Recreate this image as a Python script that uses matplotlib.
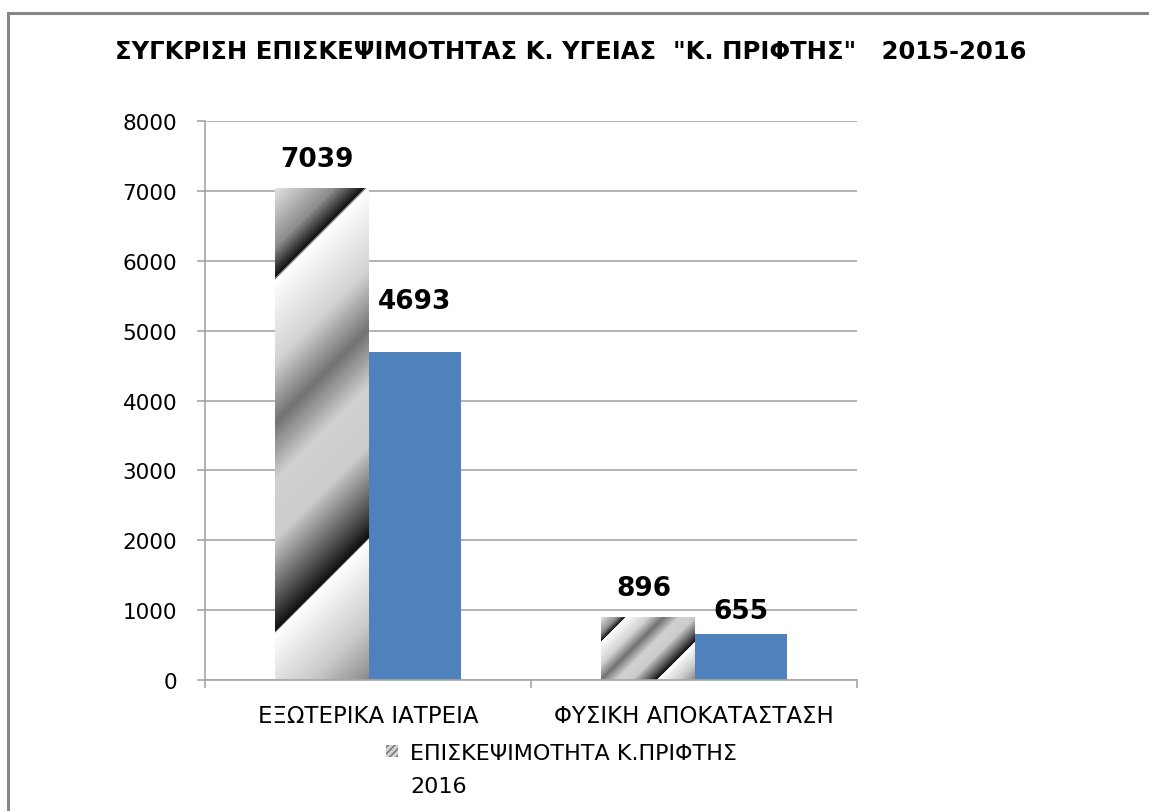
import numpy as np
import matplotlib
matplotlib.use("Agg")
import matplotlib.pyplot as plt
from matplotlib.colors import LinearSegmentedColormap
from matplotlib.patches import Rectangle

# data
categories = ["ΕΞΩΤΕΡΙΚΑ ΙΑΤΡΕΙΑ", "ΦΥΣΙΚΗ ΑΠΟΚΑΤΑΣΤΑΣΗ"]
visits_2016 = [7039, 896]
visits_2015 = [4693, 655]
series_name = "ΕΠΙΣΚΕΨΙΜΟΤΗΤΑ Κ.ΠΡΙΦΤΗΣ\n2016"
title = 'ΣΥΓΚΡΙΣΗ ΕΠΙΣΚΕΨΙΜΟΤΗΤΑΣ Κ. ΥΓΕΙΑΣ  "Κ. ΠΡΙΦΤΗΣ"   2015-2016'
y_ticks = [0, 1000, 2000, 3000, 4000, 5000, 6000, 7000, 8000]

plt.rcParams['font.family'] = ['DejaVu Sans']

W, H, DPI = 1149, 812, 100
fig = plt.figure(figsize=(W / DPI, H / DPI), dpi=DPI)
ax = fig.add_axes([205 / W, 1 - 681 / H, 652 / W, 559 / H])

# outer chart border (cut off at right and bottom)
fig.patches.append(Rectangle((8 / W, -0.1), 1.2, 1 - 14 / H + 0.1,
                             transform=fig.transFigure, fill=False,
                             edgecolor='#878787', linewidth=2.2))

bar_w = 0.286
x = np.arange(len(categories))
ax.set_xlim(-0.5, len(categories) - 0.5)
ax.set_ylim(0, 8000)

# metallic striped gradient, 45 degrees in screen space
stops = [(0.0, 0.55), (0.10, 0.80), (0.238, 1.0), (0.242, 0.06),
         (0.30, 0.35), (0.40, 0.80), (0.50, 0.82), (0.60, 0.45),
         (0.70, 0.82), (0.845, 1.0), (0.849, 0.06), (0.90, 0.55),
         (1.0, 0.88)]
metal = LinearSegmentedColormap.from_list(
    "metal", [(q, (g, g, g)) for q, g in stops], N=512)

px_x = 652 / 2.0
px_y = 559 / 8000.0

bars1 = ax.bar(x - bar_w / 2, visits_2016, bar_w, color='none',
               edgecolor='none', zorder=3)
bars2 = ax.bar(x + bar_w / 2, visits_2015, bar_w, color='#4F81BD',
               edgecolor='none', zorder=3)

for b in bars1:
    x0, w, h = b.get_x(), b.get_width(), b.get_height()
    wp, hp = w * px_x, h * px_y
    nx, ny = int(wp) + 1, int(hp) + 1
    s, t = np.meshgrid(np.linspace(0, wp, nx), np.linspace(0, hp, ny))
    q = (t - s + wp) / (hp + wp)
    im = ax.imshow(q, cmap=metal, vmin=0, vmax=1, origin='lower',
                   extent=[x0, x0 + w, 0, h], aspect='auto', zorder=3,
                   interpolation='bilinear')
    im.set_clip_path(b)

ax.set_aspect('auto')
ax.set_xlim(-0.5, len(categories) - 0.5)
ax.set_ylim(0, 8000)

# value labels
offsets_1 = [21, 21.5]
offsets_2 = [37, 16.5]
for b, v, off in zip(bars1, visits_2016, offsets_1):
    ax.annotate(str(v), (b.get_x() + b.get_width() / 2 - 0.012, v),
                xytext=(0, off), textcoords='offset points', ha='center',
                va='center', fontsize=19, fontweight='bold', zorder=5)
for b, v, off in zip(bars2, visits_2015, offsets_2):
    ax.annotate(str(v), (b.get_x() + b.get_width() / 2, v),
                xytext=(0, off), textcoords='offset points', ha='center',
                va='center', fontsize=19, fontweight='bold', zorder=5)

# axes styling
grey = '#a6a6a6'
ax.set_yticks(y_ticks)
ax.yaxis.grid(True, color=grey, linewidth=1.2)
ax.set_axisbelow(True)
for side in ['top', 'right']:
    ax.spines[side].set_visible(False)
for side in ['left', 'bottom']:
    ax.spines[side].set_color(grey)
    ax.spines[side].set_linewidth(1.2)
    ax.spines[side].set_zorder(4)
ax.tick_params(axis='y', direction='out', length=6, color=grey, width=1.2,
               labelsize=15.5, pad=14)
ax.set_xticks([-0.5, 0.5, 1.5])
ax.set_xticklabels([])
ax.set_xticks(x, minor=True)
ax.set_xticklabels(categories, minor=True)
ax.tick_params(axis='x', which='major', direction='out', length=6,
               color=grey, width=1.2)
ax.tick_params(axis='x', which='minor', length=0, labelsize=16.5, pad=17)

fig.text(571 / W, 1 - 52 / H, title, ha='center', va='center',
         fontsize=17.5, fontweight='bold')

# legend (only the first series is visible, the rest is cut off)
fig.patches.append(Rectangle((386 / W, 1 - 758 / H), 12 / W, 12 / H,
                             transform=fig.transFigure, facecolor='#d0d0d0',
                             edgecolor='#707070', hatch='/////',
                             linewidth=0))
fig.text(410 / W, 1 - 744 / H, series_name, ha='left', va='top',
         fontsize=16, linespacing=1.8)

fig.savefig("out.png", dpi=DPI)
